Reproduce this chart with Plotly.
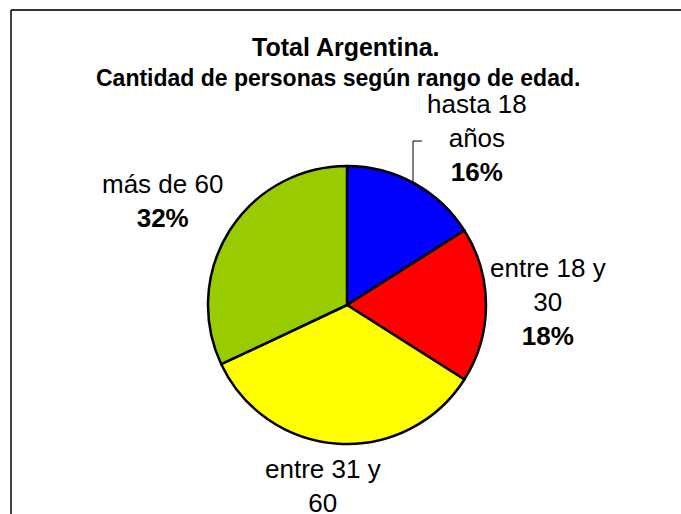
import plotly.graph_objects as go

W, H = 681, 514

categories = ["hasta 18<br>años", "entre 18 y<br>30", "entre 31 y<br>60", "más de 60"]
values = [16, 18, 34, 32]
colors = ["#0000FF", "#FF0000", "#FFFF00", "#99CC00"]

# label centres (pixels, top-left origin) for each slice's text
label_pos = [(477, 138), (548, 302), (323, 503), (162, 201)]


def px(x, y):
    return x / W, 1 - y / H


fig = go.Figure()
fig.add_trace(go.Pie(
    labels=categories, values=values, sort=False, direction="clockwise",
    rotation=0, textinfo="none", hoverinfo="label+percent",
    marker=dict(colors=colors, line=dict(color="black", width=2.5)),
    domain=dict(x=[208 / W, 486 / W], y=[1 - 444 / H, 1 - 166 / H]),
    showlegend=False,
))

total = sum(values)
for cat, v, (x, y) in zip(categories, values, label_pos):
    pct = round(100 * v / total)
    ax, ay = px(x, y)
    fig.add_annotation(x=ax, y=ay, xref="paper", yref="paper", showarrow=False,
                       xanchor="center", yanchor="middle",
                       text=f"{cat}<br><b>{pct}%</b>", align="center",
                       font=dict(size=26, color="black"))

tx, ty = px(346, 47)
fig.add_annotation(x=tx, y=ty, xref="paper", yref="paper", showarrow=False,
                   xanchor="center", yanchor="middle",
                   text="<b>Total Argentina.</b>", font=dict(size=25, color="black"))
sx, sy = px(338, 78)
fig.add_annotation(x=sx, y=sy, xref="paper", yref="paper", showarrow=False,
                   xanchor="center", yanchor="middle",
                   text="<b>Cantidad de personas según rango de edad.</b>",
                   font=dict(size=23, color="black"))

# chart border (cropped at right and bottom)
fig.add_shape(type="line", xref="paper", yref="paper", x0=11 / W, x1=1.01,
              y0=1 - 10 / H, y1=1 - 10 / H, line=dict(color="#333333", width=2))
fig.add_shape(type="line", xref="paper", yref="paper", x0=11 / W, x1=11 / W,
              y0=1 - 10 / H, y1=-0.01, line=dict(color="black", width=1.5))
# leader line for first label
fig.add_shape(type="path", xref="paper", yref="paper",
              path=f"M {422 / W} {1 - 141 / H} L {413 / W} {1 - 141 / H} L {413 / W} {1 - 182 / H}",
              line=dict(color="black", width=1))

fig.update_layout(
    width=W, height=H,
    margin=dict(l=0, r=0, t=0, b=0),
    paper_bgcolor="white", plot_bgcolor="white",
    font=dict(family="Liberation Sans, Arial, sans-serif"),
)
fig.write_html("out.html", config={"displayModeBar": False},
               post_script="document.body.style.margin='0';")
